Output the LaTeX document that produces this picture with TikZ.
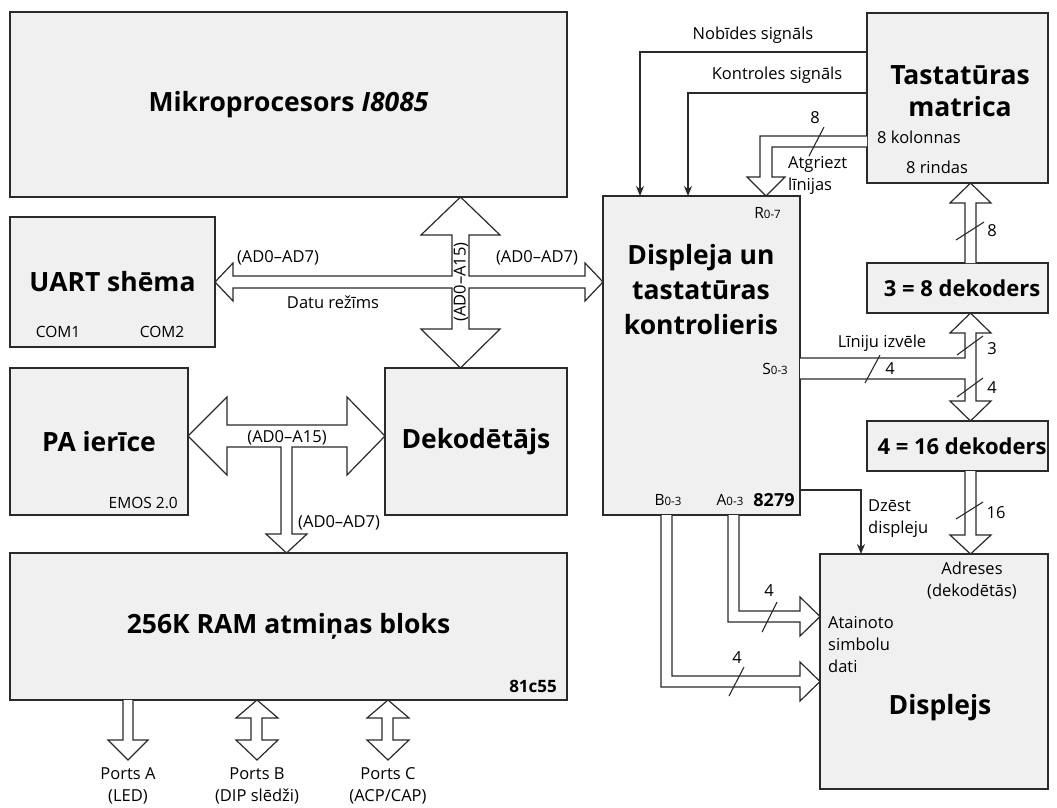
\documentclass[tikz,border=0pt]{standalone}
\usepackage{fontspec}
\setmainfont{Open Sans}
\usetikzlibrary{arrows.meta}
\definecolor{boxfill}{HTML}{F0F0F0}
\definecolor{edge}{HTML}{2A2A2A}
\begin{document}
\begin{tikzpicture}[x=1pt,y=-1pt,
  box/.style={draw=edge,line width=1.3pt,fill=boxfill,inner sep=0pt,outer sep=0pt},
  big/.style={font=\fontsize{26.5}{34}\selectfont\bfseries,align=center},
  mid/.style={font=\fontsize{22}{28}\selectfont\bfseries,align=center},
  sm/.style={font=\fontsize{16.5}{22}\selectfont,inner sep=0pt},
  xs/.style={font=\fontsize{15.5}{20}\selectfont,inner sep=0pt},
  bus/.style={draw=edge,line width=1.2pt,fill=white,line join=miter},
  sig/.style={draw=edge,line width=1.2pt,-{Stealth[length=10pt,width=8pt]}},
  slash/.style={draw=edge,line width=1.1pt}
]
\useasboundingbox (0,0) rectangle (1057,807);

% ---------- boxes ----------
\node[box,big,minimum width=557pt,minimum height=185pt] (cpu) at (288.5,104.5) {Mikroprocesors \textit{I8085}};
\node[box,big,minimum width=205pt,minimum height=130pt] (uart) at (112.5,282) {UART shēma};
\node[box,big,minimum width=178pt,minimum height=147pt] (pa) at (99,441.5) {PA ierīce};
\node[box,big,minimum width=182pt,minimum height=147pt] (dec) at (476,441.5) {Dekodētājs};
\node[box,big,minimum width=557pt,minimum height=147pt] (ram) at (288.5,626.5) {256K RAM atmiņas bloks};
\node[box,minimum width=181pt,minimum height=170pt] (kbd) at (957.5,98) {};
\node[box,minimum width=197pt,minimum height=319pt] (ctrl) at (701.5,355.5) {};
\node[box,minimum width=181pt,minimum height=50pt] (dec38) at (957.5,288) {};
\node[box,minimum width=181pt,minimum height=50pt] (dec416) at (957.5,446) {};
\node[box,minimum width=228pt,minimum height=235pt] (disp) at (934,671.5) {};

% ---------- texts inside boxes ----------
\node[mid] (t38) at (962,288) {3 = 8 dekoders};
\node[mid] (t416) at (962,446) {4 = 16 dekoders};
\node[big,font=\fontsize{26.5}{32}\selectfont\bfseries] (tkbd) at (960,91) {Tastatūras\\matrica};
\node[big,font=\fontsize{26.5}{35}\selectfont\bfseries] (tctrl) at (701,290) {Displeja un\\tastatūras\\kontrolieris};
\node[big] (tdisp) at (940,708) {Displejs};
\node[xs] (com1) at (58,332) {COM1};
\node[xs] (com2) at (162,332) {COM2};
\node[xs,anchor=east] (emos) at (178,503) {EMOS 2.0};
\node[font=\fontsize{17}{20}\selectfont\bfseries,inner sep=0pt,anchor=east] (t81) at (557,686) {81c55};
\node[sm,anchor=west] (kol) at (877,137) {8 kolonnas};
\node[sm] (rin) at (937,167) {8 rindas};
\node[xs,anchor=east] (r07) at (781,213) {R{\fontsize{11.5}{12}\selectfont 0-7}};
\node[xs,anchor=east] (s03) at (788,369) {S{\fontsize{11.5}{12}\selectfont 0-3}};
\node[xs] (b03) at (668,500) {B{\fontsize{11.5}{12}\selectfont 0-3}};
\node[xs] (a03) at (730,500) {A{\fontsize{11.5}{12}\selectfont 0-3}};
\node[font=\fontsize{18}{20}\selectfont\bfseries,inner sep=0pt] (t8279) at (774,500) {8279};
\node[sm,align=center] (adr) at (972,581) {Adreses\\(dekodētās)};
\node[sm,align=left,anchor=west] (atai) at (828,645) {Atainoto\\simbolu\\dati};

% ---------- signal lines ----------
\coordinate (nb) at (640,52);
\coordinate (kt) at (688,93);
\coordinate (dz) at (861,490);
\draw[sig] (kbd.west |- nb) -| (ctrl.north -| nb);
\draw[sig] (kbd.west |- kt) -| (ctrl.north -| kt);
\draw[sig] (ctrl.east |- dz) -| (disp.north -| dz);
\node[sm] (lnb) at (753,35) {Nobīdes signāls};
\node[sm] (lkt) at (777,75) {Kontroles signāls};
\node[sm,align=left,anchor=west] (ldz) at (868,519) {Dzēst\\displeju};

% ---------- 8 kolonnas return lines ----------
\path[bus] (867,136) -- (760,136) -- (760,177) -- (747,177) -- (766,196) -- (785,177) -- (772,177) -- (772,147) -- (867,147);
\draw[slash] (809,156) -- (824,127);
\node[sm] (l8a) at (815,118) {8};
\node[sm,align=left,anchor=west] (latg) at (788,175) {Atgriezt\\līnijas};

% ---------- main data bus ----------
\path[bus] (215,282) -- (233,263) -- (233,276) -- (452,276) -- (452,235) -- (421,235) -- (460.5,197) -- (500,235) -- (469,235) -- (469,276) -- (585,276) -- (585,263) -- (603,282) -- (585,301) -- (585,288) -- (469,288) -- (469,329) -- (500,329) -- (460.5,368) -- (421,329) -- (452,329) -- (452,288) -- (233,288) -- (233,301) -- cycle;
\node[sm] (lad1) at (278,258) {(AD0–AD7)};
\node[sm] (lad2) at (537,258) {(AD0–AD7)};
\node[sm] (ldatu) at (333,302) {Datu režīms};
\node[sm,rotate=90] (la15) at (461,282) {(AD0–A15)};

% ---------- PA / decoder bus ----------
\path[bus] (188,436) -- (227,397) -- (227,425) -- (347,425) -- (347,397) -- (385,436) -- (347,475) -- (347,447) -- (292,447) -- (292,534) -- (307,534) -- (286.5,553) -- (266,534) -- (281,534) -- (281,447) -- (227,447) -- (227,475) -- cycle;
\node[sm] (lpa1) at (287,438) {(AD0–A15)};
\node[sm,anchor=west] (lpa2) at (298,523) {(AD0–AD7)};

% ---------- S0-3 bus ----------
\path[bus] (800,358) -- (965,358) -- (965,333) -- (950,333) -- (970.5,313) -- (991,333) -- (976,333) -- (976,401) -- (991,401) -- (970.5,421) -- (950,401) -- (965,401) -- (965,379) -- (800,379);
\draw[slash] (865,383) -- (880,355);
\node[sm] (l4s) at (890,369) {4};
\node[sm] (lliz) at (882,343) {Līniju izvēle};
\draw[slash] (957,355) -- (983,336);
\node[sm] (l3) at (992,349) {3};
\draw[slash] (957,397) -- (983,378);
\node[sm] (l4b) at (992,388) {4};

% ---------- 3=8 -> matrix ----------
\path[bus] (965,263) -- (965,203) -- (950,203) -- (970.5,183) -- (991,203) -- (976,203) -- (976,263);
\draw[slash] (956,240) -- (984,222);
\node[sm] (l8b) at (992,231) {8};

% ---------- 4=16 -> display ----------
\path[bus] (965,471) -- (965,535) -- (950,535) -- (970.5,554) -- (991,535) -- (976,535) -- (976,471);
\draw[slash] (956,519) -- (983,502);
\node[sm] (l16) at (996,513) {16};

% ---------- A and B buses ----------
\path[bus] (739,515) -- (739,611) -- (800,611) -- (800,597) -- (820,616.5) -- (800,636) -- (800,622) -- (728,622) -- (728,515);
\draw[slash] (762,632) -- (777,602);
\node[sm] (l4a) at (769,591) {4};
\path[bus] (672,515) -- (672,676) -- (800,676) -- (800,662) -- (820,681.5) -- (800,701) -- (800,687) -- (661,687) -- (661,515);
\draw[slash] (729,696) -- (744,667);
\node[sm] (l4bb) at (737,658) {4};

% ---------- ports ----------
\path[bus] (123,700) -- (123,740) -- (108,740) -- (128,760) -- (148,740) -- (133,740) -- (133,700);
\path[bus] (257,700) -- (278,718) -- (262,718) -- (262,740) -- (278,740) -- (257,760) -- (236,740) -- (251,740) -- (251,718) -- (236,718) -- cycle;
\path[bus] (388,700) -- (409,718) -- (393,718) -- (393,740) -- (409,740) -- (388,760) -- (367,740) -- (382,740) -- (382,718) -- (367,718) -- cycle;
\node[sm,align=center] (pA) at (128,786) {Ports A\\(LED)};
\node[sm,align=center] (pB) at (257,786) {Ports B\\(DIP slēdži)};
\node[sm,align=center] (pC) at (388,786) {Ports C\\(ACP/CAP)};
\end{tikzpicture}
\end{document}
